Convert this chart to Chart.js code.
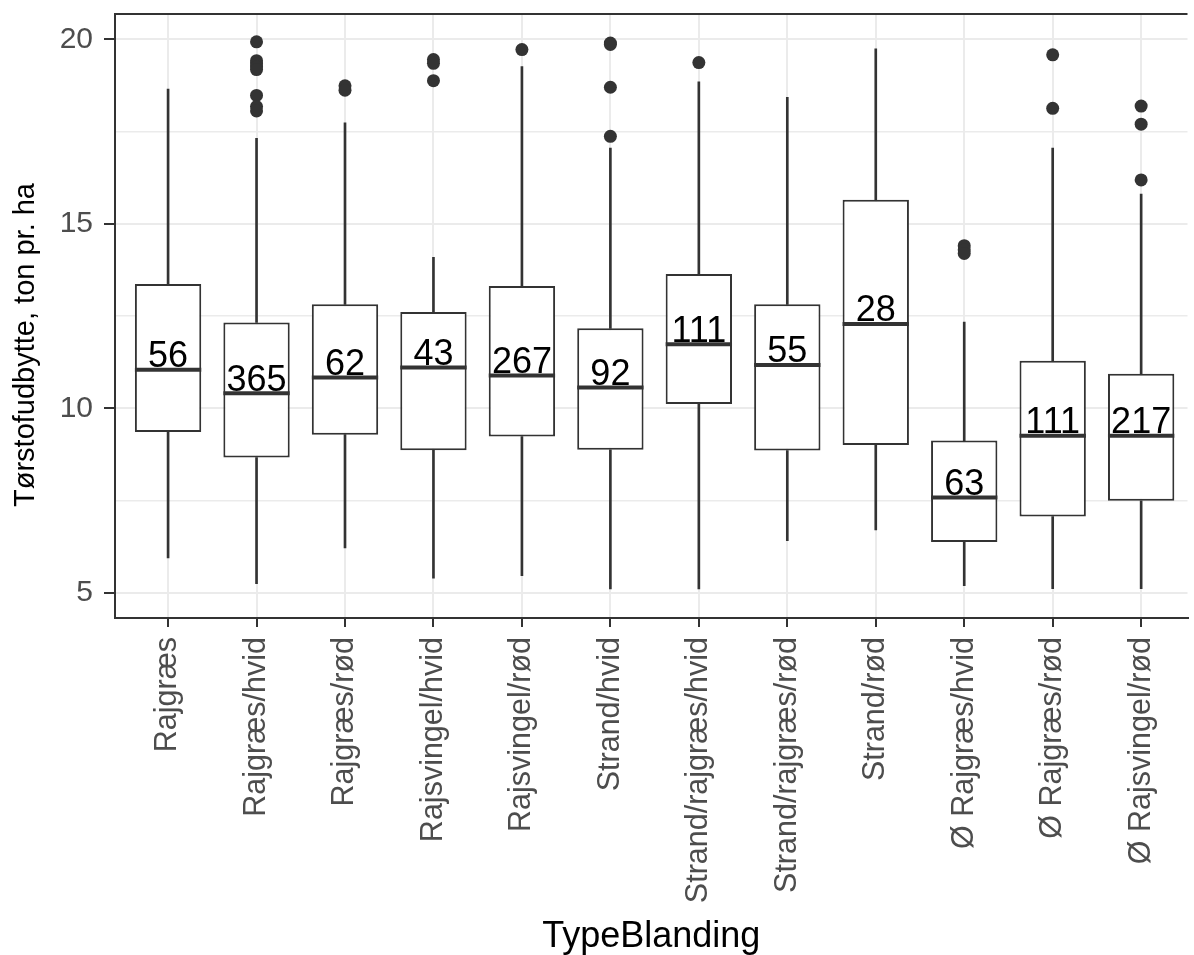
<!DOCTYPE html>
<html>
<head>
<meta charset="utf-8">
<title>Tørstofudbytte pr. TypeBlanding</title>
<script src="https://cdn.jsdelivr.net/npm/chart.js"></script>
<style>
  html, body { margin: 0; padding: 0; background: #fff; overflow: hidden; }
  canvas { display: block; }
</style>
</head>
<body>
<canvas id="myChart" width="1194" height="955"></canvas>
<script>
// boxplot summaries (ton pr. ha)
const categories = ['Rajgræs', 'Rajgræs/hvid', 'Rajgræs/rød', 'Rajsvingel/hvid', 'Rajsvingel/rød', 'Strand/hvid',
                    'Strand/rajgræs/hvid', 'Strand/rajgræs/rød', 'Strand/rød', 'Ø Rajgræs/hvid', 'Ø Rajgræs/rød', 'Ø Rajsvingel/rød']
const lowerWhisker = [5.95, 5.25, 6.22, 5.40, 5.47, 5.11, 5.11, 6.42, 6.71, 5.20, 5.12, 5.12]
const q1 = [9.36, 8.67, 9.29, 8.87, 9.24, 8.88, 10.12, 8.86, 9.01, 6.38, 7.07, 7.50]
const medians = [11.05, 10.41, 10.84, 11.11, 10.89, 10.57, 11.74, 11.18, 12.29, 7.59, 9.26, 9.26]
const q3 = [13.37, 12.33, 12.82, 12.61, 13.32, 12.17, 13.64, 12.82, 15.65, 9.13, 11.29, 10.94]
const upperWhisker = [18.65, 17.32, 17.74, 14.09, 19.26, 17.05, 18.85, 18.43, 19.74, 12.34, 17.05, 15.81]
const counts = [56, 365, 62, 43, 267, 92, 111, 55, 28, 63, 111, 217]
const outliers = [
    [],
    [19.93, 19.42, 19.33, 19.25, 19.18, 18.48, 18.18, 18.06],
    [18.74, 18.62],
    [19.45, 19.35, 18.88],
    [19.72],
    [19.9, 19.86, 18.70, 17.37],
    [19.37],
    [],
    [],
    [14.41, 14.3, 14.2],
    [19.58, 18.13],
    [18.19, 17.70, 16.19]
]
const yTicks = [5, 10, 15, 20]
const yMinor = [7.5, 12.5, 17.5]

const dark = '#333333'
const boxWidth = 0.75
Chart.defaults.font.family = '"Liberation Sans", Arial, sans-serif'

const toBars = (lo, hi) => categories.map((c, i) => ({x: i + 1, y: [lo[i], hi[i]]}))
const outlierPoints = []
outliers.forEach((list, i) => list.forEach(v => outlierPoints.push({x: i + 1, y: v})))

// median lines, n labels and the top edge of the panel
const boxExtras = {
    id: 'boxExtras',
    afterDatasetsDraw(chart) {
        const {ctx, chartArea, scales: {x, y}} = chart
        const half = x.getPixelForValue(1 + boxWidth / 2) - x.getPixelForValue(1)
        ctx.save()
        ctx.strokeStyle = dark
        ctx.lineWidth = 2
        ctx.beginPath()
        ctx.moveTo(chartArea.left, chartArea.top)
        ctx.lineTo(chartArea.right, chartArea.top)
        ctx.stroke()

        medians.forEach((m, i) => {
            const cx = x.getPixelForValue(i + 1)
            const my = y.getPixelForValue(m)
            ctx.strokeStyle = dark
            ctx.lineWidth = 4
            ctx.beginPath()
            ctx.moveTo(cx - half, my)
            ctx.lineTo(cx + half, my)
            ctx.stroke()
            ctx.fillStyle = '#000'
            ctx.font = '36px "Liberation Sans", Arial, sans-serif'
            ctx.textAlign = 'center'
            ctx.textBaseline = 'alphabetic'
            ctx.fillText(String(counts[i]), cx, my - 2.5)
        })
        ctx.restore()
    },
    afterDraw(chart) {
        const ctx = chart.ctx
        ctx.save()
        ctx.translate(34, 345)
        ctx.rotate(-Math.PI / 2)
        ctx.fillStyle = '#000'
        ctx.font = '29px "Liberation Sans", Arial, sans-serif'
        ctx.textAlign = 'center'
        ctx.textBaseline = 'alphabetic'
        ctx.fillText('Tørstofudbytte, ton pr. ha', 0, 0)
        ctx.restore()
    }
}

const ctx = document.getElementById('myChart').getContext('2d')
const chart = new Chart(ctx, {
    type: 'bar',
    data: {
        datasets: [
            {
                type: 'scatter',
                label: 'outliers',
                data: outlierPoints,
                pointRadius: 6.5,
                pointBackgroundColor: dark,
                pointBorderWidth: 0,
                order: 1
            },
            {
                label: 'box',
                data: toBars(q1, q3),
                backgroundColor: '#ffffff',
                borderColor: dark,
                borderWidth: 2,
                borderSkipped: false,
                barPercentage: boxWidth,
                categoryPercentage: 1,
                grouped: false,
                order: 2
            },
            {
                label: 'upper whisker',
                data: toBars(q3, upperWhisker),
                backgroundColor: dark,
                barThickness: 2,
                grouped: false,
                order: 3
            },
            {
                label: 'lower whisker',
                data: toBars(lowerWhisker, q1),
                backgroundColor: dark,
                barThickness: 2,
                grouped: false,
                order: 3
            }
        ]
    },
    options: {
        responsive: false,
        animation: false,
        events: [],
        layout: {padding: {top: 14, right: 0, left: 0, bottom: 0}},
        plugins: {legend: {display: false}, tooltip: {enabled: false}},
        scales: {
            x: {
                type: 'linear',
                min: 0.4,
                max: 12.524,
                offset: false,
                afterBuildTicks: s => { s.ticks = categories.map((c, i) => ({value: i + 1})) },
                afterFit: s => { s.height = 337; s.paddingLeft = 0; s.paddingRight = 0 },
                ticks: {
                    autoSkip: false,
                    minRotation: 90,
                    maxRotation: 90,
                    padding: 10,
                    color: '#4d4d4d',
                    font: {size: 30.5},
                    callback: v => categories[v - 1]
                },
                grid: {offset: false, color: '#ebebeb', lineWidth: 2, tickColor: dark, tickLength: 9, tickWidth: 2},
                border: {display: true, color: dark, width: 2},
                title: {display: true, text: 'TypeBlanding', color: '#000', font: {size: 36, lineHeight: 1}, padding: 0}
            },
            y: {
                min: 4.323,
                max: 20.685,
                afterBuildTicks: s => { s.ticks = yTicks.concat(yMinor).sort((a, b) => a - b).map(v => ({value: v})) },
                afterFit: s => { s.width = 115; s.paddingTop = 0; s.paddingBottom = 0 },
                ticks: {
                    padding: 11,
                    color: '#4d4d4d',
                    font: {size: 30},
                    callback: v => yTicks.includes(v) ? String(v) : ''
                },
                grid: {
                    color: '#ebebeb',
                    lineWidth: c => yTicks.includes(c.tick.value) ? 2 : 1.5,
                    tickColor: c => yTicks.includes(c.tick.value) ? dark : 'rgba(0,0,0,0)',
                    tickLength: 11,
                    tickWidth: 2
                },
                border: {display: true, color: dark, width: 2}
            }
        }
    },
    plugins: [boxExtras]
})
</script>
</body>
</html>
